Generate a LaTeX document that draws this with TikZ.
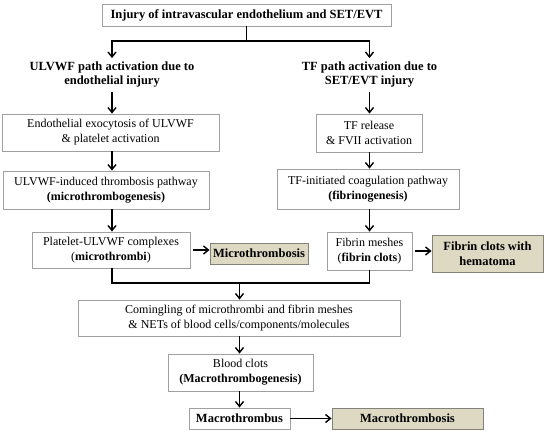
\documentclass[tikz,border=0pt]{standalone}
\usepackage{fontspec}
\setmainfont{Liberation Serif}
\usetikzlibrary{arrows.meta}
\definecolor{tanc}{RGB}{221,217,195}
\definecolor{boxline}{RGB}{160,160,160}
\definecolor{tanline}{RGB}{130,130,120}
\begin{document}
\begin{tikzpicture}[x=1pt,y=-1pt,
  box/.style={draw=boxline, line width=0.8pt, fill=white, rectangle, inner sep=0pt,
    align=center, font=\fontsize{12}{15}\selectfont},
  tanbox/.style={box, fill=tanc, draw=tanline, font=\fontsize{12.5}{15}\selectfont\bfseries},
  head/.style={inner sep=4pt, align=center, font=\fontsize{12.5}{14}\selectfont\bfseries},
  conn/.style={line width=1.8pt, black},
  arr/.style={conn, -{Straight Barb[length=5pt,width=8pt,line width=1.4pt]}}]
\useasboundingbox (0,0) rectangle (550,436);

\node[box, minimum width=289, minimum height=22, font=\fontsize{12.5}{15}\selectfont\bfseries] (top) at (246.5,15) {Injury of intravascular endothelium and SET/EVT};

\node[head] (ulv) at (112,75) {ULVWF path activation due to\\endothelial injury};
\node[head] (tf) at (369.5,75) {TF path activation due to\\SET/EVT injury};

\node[box, minimum width=217, minimum height=37] (e1) at (110.5,132.5) {Endothelial exocytosis of ULVWF\\\& platelet activation};
\node[box, minimum width=206, minimum height=38] (e2) at (106,190) {ULVWF-induced thrombosis pathway\\\textbf{(microthrombogenesis)}};
\node[box, minimum width=158, minimum height=36] (e3) at (111,250) {Platelet-ULVWF complexes\\(\textbf{microthrombi})};
\node[tanbox, minimum width=98, minimum height=21] (micro) at (259,253.5) {Microthrombosis};

\node[box, minimum width=106, minimum height=38] (f1) at (369,133) {TF release\\\& FVII activation};
\node[box, minimum width=182, minimum height=40] (f2) at (368,189) {TF-initiated coagulation pathway\\\textbf{(fibrinogenesis)}};
\node[box, minimum width=85, minimum height=38] (f3) at (369.5,251) {Fibrin meshes\\(\textbf{fibrin clots})};
\node[tanbox, minimum width=111, minimum height=37] (fh) at (487.5,253.5) {Fibrin clots with\\hematoma};

\node[box, minimum width=322, minimum height=36] (com) at (239,318) {Comingling of microthrombi and fibrin meshes\\\& NETs of blood cells/components/molecules};
\node[box, minimum width=145, minimum height=37] (bc) at (240.5,372.5) {Blood clots\\\textbf{(Macrothrombogenesis)}};
\node[box, minimum width=101, minimum height=21, font=\fontsize{12.5}{15}\selectfont\bfseries] (mt) at (239.5,418.5) {Macrothrombus};
\node[tanbox, minimum width=151, minimum height=21] (mts) at (407.5,418.5) {Macrothrombosis};

\coordinate (jm) at (246.5,41);
\coordinate (mj) at (239.5,283);

\draw[conn] (top.south) -- (jm);
\draw[arr] (jm) -| (ulv.north);
\draw[arr] (jm) -| (tf.north);

\draw[arr] (ulv.south) -- (ulv.south |- e1.north);
\draw[arr] (e1.south -| ulv) -- (e2.north -| ulv);
\draw[arr] (e2.south -| ulv) -- (e3.north -| ulv);
\draw[arr] ([xshift=3pt]e3.east) -- (micro.west |- e3.east);

\draw[arr] (tf.south) -- (tf.south |- f1.north);
\draw[arr] (f1.south -| tf) -- (f2.north -| tf);
\draw[arr] (f2.south -| tf) -- (f3.north -| tf);
\draw[arr] ([xshift=3pt]f3.east) -- (fh.west |- f3.east);

\draw[conn] (e3.south -| ulv) -- (ulv |- mj) -- (tf |- mj) -- (f3.south -| tf);
\draw[arr] (mj) -- (com.north -| mj);
\draw[arr] (com.south -| mj) -- (bc.north -| mj);
\draw[arr] (bc.south -| mj) -- (mt.north -| mj);
\draw[arr] (mt.east) -- (mts.west);
\end{tikzpicture}
\end{document}
